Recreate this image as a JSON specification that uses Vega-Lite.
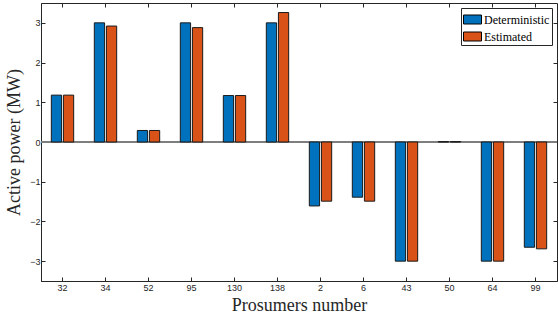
{
  "$schema": "https://vega.github.io/schema/vega-lite/v6.json",
  "width": 516,
  "height": 278,
  "autosize": {"type": "none"},
  "padding": {"left": 41, "top": 3, "right": 1, "bottom": 39},
  "background": "white",
  "config": {
    "view": {"stroke": "#262626", "strokeWidth": 1},
    "legend": {"labelFont": "Liberation Serif"},
    "axis": {
      "grid": false,
      "domainColor": "#262626",
      "tickColor": "#262626",
      "labelColor": "#262626",
      "labelFont": "Liberation Sans",
      "labelFontSize": 9,
      "titleFont": "Liberation Serif",
      "titleFontSize": 18,
      "titleFontWeight": "normal",
      "titleColor": "#262626",
      "tickSize": -4
    }
  },
  "data": {
    "values": [
      {"prosumer": "32", "type": "Deterministic", "value": 1.18},
      {"prosumer": "32", "type": "Estimated", "value": 1.18},
      {"prosumer": "34", "type": "Deterministic", "value": 3.0},
      {"prosumer": "34", "type": "Estimated", "value": 2.92},
      {"prosumer": "52", "type": "Deterministic", "value": 0.29},
      {"prosumer": "52", "type": "Estimated", "value": 0.29},
      {"prosumer": "95", "type": "Deterministic", "value": 3.0},
      {"prosumer": "95", "type": "Estimated", "value": 2.88},
      {"prosumer": "130", "type": "Deterministic", "value": 1.17},
      {"prosumer": "130", "type": "Estimated", "value": 1.17},
      {"prosumer": "138", "type": "Deterministic", "value": 3.0},
      {"prosumer": "138", "type": "Estimated", "value": 3.26},
      {"prosumer": "2", "type": "Deterministic", "value": -1.61},
      {"prosumer": "2", "type": "Estimated", "value": -1.49},
      {"prosumer": "6", "type": "Deterministic", "value": -1.39},
      {"prosumer": "6", "type": "Estimated", "value": -1.49},
      {"prosumer": "43", "type": "Deterministic", "value": -3.0},
      {"prosumer": "43", "type": "Estimated", "value": -3.0},
      {"prosumer": "50", "type": "Deterministic", "value": 0.01},
      {"prosumer": "50", "type": "Estimated", "value": 0.01},
      {"prosumer": "64", "type": "Deterministic", "value": -3.0},
      {"prosumer": "64", "type": "Estimated", "value": -3.0},
      {"prosumer": "99", "type": "Deterministic", "value": -2.65},
      {"prosumer": "99", "type": "Estimated", "value": -2.69}
    ]
  },
  "layer": [
    {
      "mark": {"type": "rule", "color": "#7f7f7f", "strokeWidth": 1},
      "encoding": {"y": {"datum": 0, "type": "quantitative", "scale": {"domain": [-3.5, 3.5], "nice": false}, "axis": null}}
    },
    {
      "mark": {"type": "bar", "stroke": "#1a1a1a", "strokeWidth": 1, "opacity": 1},
      "encoding": {
        "x": {
          "field": "prosumer", "type": "nominal", "sort": null,
          "scale": {"paddingInner": 0.48, "paddingOuter": 0.24},
          "axis": {"title": "Prosumers number", "labelAngle": 0, "labelPadding": 6, "titlePadding": 4, "orient": "bottom"}
        },
        "xOffset": {"field": "type", "type": "nominal", "scale": {"paddingInner": 0.15}},
        "y": {
          "field": "value", "type": "quantitative",
          "scale": {"domain": [-3.5, 3.5], "nice": false},
          "axis": {"title": "Active power (MW)", "values": [-3, -2, -1, 0, 1, 2, 3], "labelPadding": 5, "titlePadding": 6, "orient": "left"}
        },
        "color": {
          "field": "type", "type": "nominal",
          "scale": {"domain": ["Deterministic", "Estimated"], "range": ["#0072BD", "#D95319"]},
          "legend": {
            "title": null,
            "orient": "top-right",
            "offset": 5,
            "fillColor": "white",
            "strokeColor": "#262626",
            "padding": 2,
            "symbolType": "M-1,-0.5H1V0.5H-1Z",
            "symbolSize": 324,
            "symbolStrokeColor": "#000000",
            "symbolStrokeWidth": 1,
            "symbolOpacity": 1,
            "labelFont": "Liberation Serif",
            "labelFontSize": 12,
            "labelColor": "#000000",
            "labelOffset": 2,
            "rowPadding": 1
          }
        }
      }
    },
    {
      "mark": {"type": "bar", "opacity": 0},
      "encoding": {
        "x": {"field": "prosumer", "type": "nominal", "sort": null, "axis": {"orient": "top", "labels": false, "title": null, "domain": false}},
        "y": {"field": "value", "type": "quantitative", "axis": {"orient": "right", "labels": false, "title": null, "domain": false, "values": [-3, -2, -1, 0, 1, 2, 3]}}
      }
    }
  ],
  "resolve": {"axis": {"x": "independent", "y": "independent"}}
}
